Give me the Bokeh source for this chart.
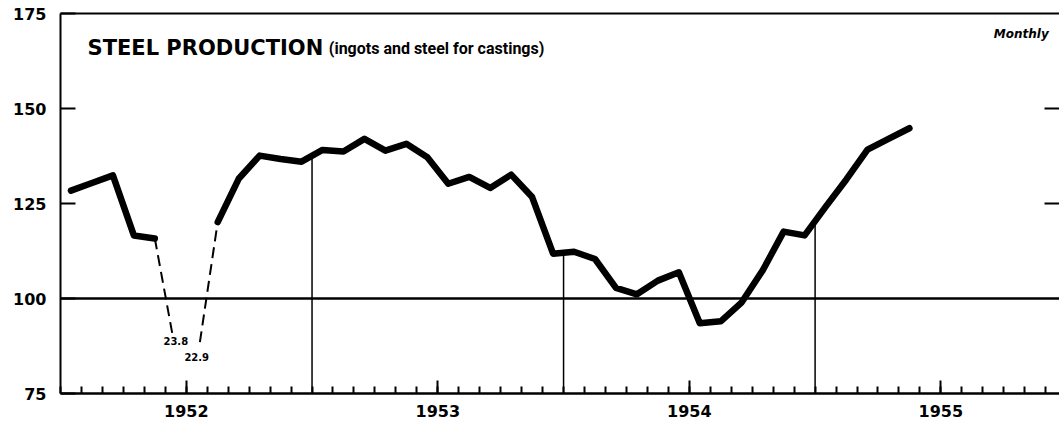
import numpy as np
from bokeh.plotting import figure
from bokeh.models import LinearAxis, FixedTicker, Span, Label, Range1d
from bokeh.core.properties import value
from bokeh.embed import file_html
from bokeh.resources import INLINE

# ---------------- data (index, monthly, Jan 1952 .. May 1955) ----------------
values_1952 = [128.4, 130.4, 132.4, 116.6, 115.8, 23.8, 22.9, 120.1, 131.5, 137.6, 136.7, 136.0]
values_1953 = [139.1, 138.7, 142.0, 138.9, 140.7, 137.2, 130.2, 132.0, 129.1, 132.6, 126.7, 111.8]
values_1954 = [112.3, 110.4, 102.8, 101.1, 104.7, 106.9, 93.5, 94.0, 99.0, 107.4, 117.6, 116.6]
values_1955 = [124.1, 131.4, 139.2, 142.0, 144.8]

years = ["1952", "1953", "1954", "1955"]
y_ticks = [75, 100, 125, 150, 175]
base_level = 100
# where the dashed (off-scale) strike segments are broken off
strike_break_x = [5.35, 6.65]
strike_break_y = [90.3, 88.5]

vals = np.array(values_1952 + values_1953 + values_1954 + values_1955, dtype=float)
months = np.arange(len(vals)) + 0.5          # month mid-points, 0 = 1 Jan 1952
y_lo, y_hi = y_ticks[0], y_ticks[-1]

solid = vals.copy()
solid[solid < y_lo] = np.nan

# ---------------- figure ----------------
p = figure(width=1059, height=422, output_backend="svg", toolbar_location=None,
           x_range=Range1d(0, 47.66), y_range=Range1d(y_lo, y_hi),
           min_border_left=60, min_border_right=0, min_border_top=13,
           min_border_bottom=29, x_axis_type=None, y_axis_type=None,
           background_fill_color="white", border_fill_color="white")
p.outline_line_color = None
p.xgrid.visible = False
p.ygrid.visible = False

tick_font = value("DejaVu Sans")

# left axis
ly = LinearAxis(ticker=FixedTicker(ticks=y_ticks))
ly.axis_line_width = 2
ly.axis_line_color = "black"
ly.major_tick_in = 15
ly.major_tick_out = 0
ly.major_tick_line_width = 2
ly.minor_tick_line_color = None
ly.major_label_standoff = 14
ly.major_label_text_font = "DejaVu Sans"
ly.major_label_text_font_style = "bold"
ly.major_label_text_font_size = "16px"
ly.major_label_text_color = "black"
p.add_layout(ly, "left")

# right axis (ticks only)
ry_ticks = [125, 150]
ry = LinearAxis(ticker=FixedTicker(ticks=ry_ticks))
ry.axis_line_color = None
ry.major_tick_in = 15
ry.major_tick_out = 0
ry.major_tick_line_width = 2
ry.minor_tick_line_color = None
ry.major_label_overrides = {t: "" for t in ry_ticks}
ry.major_label_standoff = 0
p.add_layout(ry, "right")

# top frame line
tx = LinearAxis(ticker=FixedTicker(ticks=[]))
tx.axis_line_width = 2
tx.major_tick_line_color = None
tx.minor_tick_line_color = None
tx.major_label_standoff = 0
p.add_layout(tx, "above")

# bottom axis: month ticks, labelled mid-year
mid_year = [6 + 12 * i for i in range(len(years))]
bx = LinearAxis(ticker=FixedTicker(ticks=mid_year, minor_ticks=list(range(0, 49))))
bx.major_label_overrides = {m: y for m, y in zip(mid_year, years)}
bx.axis_line_width = 2.5
bx.major_tick_in = 13
bx.major_tick_out = 0
bx.minor_tick_in = 7
bx.minor_tick_out = 0
bx.major_tick_line_width = 2
bx.minor_tick_line_width = 2
bx.major_label_standoff = 11
bx.major_label_text_font = "DejaVu Sans"
bx.major_label_text_font_style = "bold"
bx.major_label_text_font_size = "16px"
bx.major_label_text_color = "black"
p.add_layout(bx, "below")

# base line 100
p.add_layout(Span(location=base_level, dimension="width", line_color="black", line_width=2.5))

# year-boundary drop lines to the curve
bounds = np.array([12, 24, 36], dtype=float)
good = ~np.isnan(solid)
b_top = np.interp(bounds, months[good], solid[good])
p.segment(x0=bounds, y0=[y_lo] * len(bounds), x1=bounds, y1=b_top,
          line_color="black", line_width=1.5)

# main curve
p.line(months, solid, line_color="black", line_width=6.5,
       line_join="round", line_cap="round")

# dashed off-scale strike segments
i_may, i_aug = 4, 7
p.line([months[i_may], strike_break_x[0]], [vals[i_may], strike_break_y[0]],
       line_color="black", line_width=2, line_dash="11 6")
p.line([strike_break_x[1], months[i_aug]], [strike_break_y[1], vals[i_aug]],
       line_color="black", line_width=2, line_dash="11 6")

# off-scale values labels
strike_idx = [5, 6]
p.text(x=[months[i] for i in strike_idx], y=[88.7, 84.7],
       text=["%.1f" % vals[i] for i in strike_idx],
       text_font=tick_font, text_font_style="bold", text_font_size="10px",
       text_align="center", text_baseline="middle", text_color="black")

# title & note
p.add_layout(Label(x=1.29, y=165.8, text="STEEL PRODUCTION",
                   text_font="DejaVu Sans", text_font_style="bold", text_font_size="21px",
                   text_baseline="middle", text_color="black"))
p.add_layout(Label(x=12.8, y=165.8, text="(ingots and steel for castings)",
                   text_font="Roboto", text_font_style="bold", text_font_size="16px",
                   text_baseline="middle", text_color="black"))
p.add_layout(Label(x=47.15, y=169.7, text="Monthly",
                   text_font="DejaVu Sans", text_font_style="bold italic",
                   text_font_size="12px", text_align="right",
                   text_baseline="middle", text_color="black"))

open("out.html", "w").write(file_html(p, INLINE))
